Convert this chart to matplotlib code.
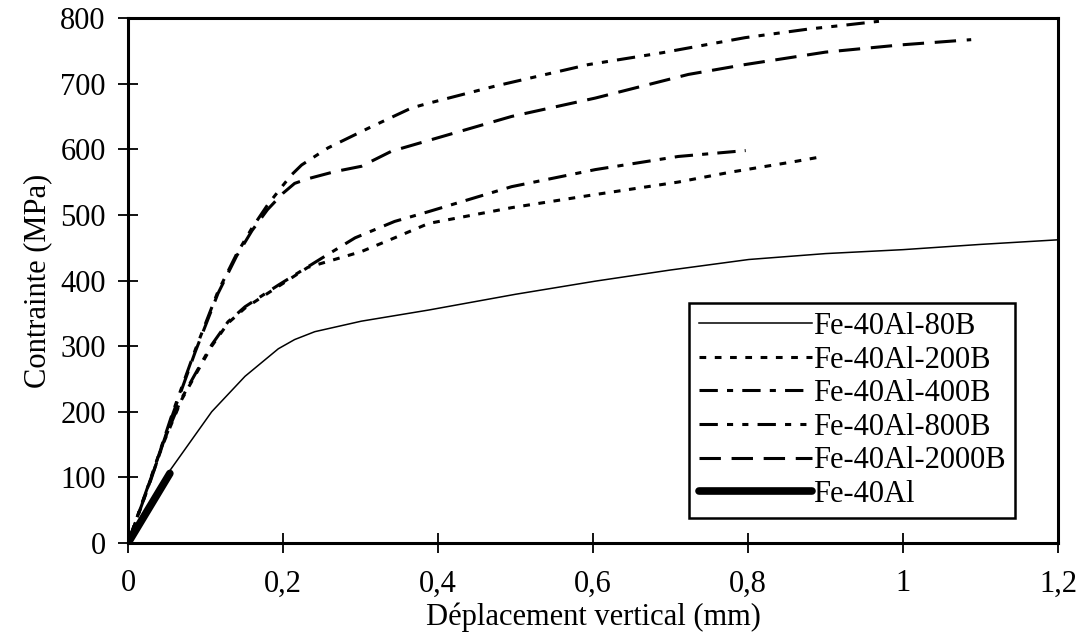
import matplotlib
matplotlib.use("Agg")
import matplotlib.pyplot as plt

plt.rcParams['font.family'] = ['Liberation Serif', 'DejaVu Serif']

# Données (déplacement en mm, contrainte en MPa)
x_80B = [0, 0.052, 0.108, 0.151, 0.194, 0.215, 0.241, 0.301, 0.388, 0.5, 0.603, 0.7, 0.801, 0.9, 1.0, 1.1, 1.2]
y_80B = [0, 107, 200, 254, 296, 310, 322, 338, 355, 379, 399, 416, 432, 441, 447, 455, 462]

x_200B = [0, 0.02, 0.045, 0.069, 0.086, 0.108, 0.129, 0.151, 0.194, 0.232, 0.301, 0.344, 0.388,
          0.495, 0.603, 0.71, 0.777, 0.859, 0.897]
y_200B = [0, 65, 150, 218, 254, 300, 335, 358, 391, 420, 444, 465, 487,
          511, 531, 550, 565, 581, 589]

x_400B = [0, 0.02, 0.045, 0.069, 0.086, 0.108, 0.129, 0.151, 0.194, 0.25, 0.293, 0.344, 0.388,
          0.495, 0.603, 0.71, 0.797]
y_400B = [0, 67, 152, 220, 256, 302, 337, 360, 393, 434, 465, 490, 505,
          543, 569, 589, 598]

x_800B = [0, 0.03, 0.058, 0.087, 0.116, 0.14, 0.16, 0.18, 0.2, 0.211, 0.224, 0.258,
          0.31, 0.366, 0.3875, 0.473, 0.594, 0.689, 0.796, 0.877, 0.924, 0.969]
y_800B = [0, 100, 200, 295, 383, 440, 480, 515, 545, 561, 576, 602,
          632, 663, 670, 696, 729, 747, 770, 783, 789, 795]

x_2000B = [0, 0.03, 0.058, 0.087, 0.116, 0.14, 0.16, 0.18, 0.2, 0.215, 0.232, 0.267,
           0.301, 0.34, 0.375, 0.495, 0.603, 0.723, 0.796, 0.9, 0.997, 1.088]
y_2000B = [0, 98, 197, 292, 380, 437, 476, 508, 533, 548, 555, 566,
           574, 597, 609, 650, 678, 714, 729, 748, 759, 767]

x_fe40 = [0, 0.054]
y_fe40 = [0, 106]

fig = plt.figure(figsize=(10.88, 6.41), dpi=100)
ax = fig.add_axes([128 / 1088, 1 - 543 / 641, 930 / 1088, 525 / 641])

ax.plot(x_80B, y_80B, color='black', lw=1.1, label='Fe-40Al-80B')
ax.plot(x_200B, y_200B, color='black', lw=2.2, dashes=(2.2, 2.8), label='Fe-40Al-200B')
ax.plot(x_400B, y_400B, color='black', lw=2.2, dashes=(6, 3, 2, 3), label='Fe-40Al-400B')
ax.plot(x_800B, y_800B, color='black', lw=2.2, dashes=(6, 3, 2, 3, 2, 3), label='Fe-40Al-800B')
ax.plot(x_2000B, y_2000B, color='black', lw=2.2, dashes=(7, 3.5), label='Fe-40Al-2000B')
ax.plot(x_fe40, y_fe40, color='black', lw=5.5, solid_capstyle='round', label='Fe-40Al')

ax.set_xlim(0, 1.2)
ax.set_ylim(0, 800)
ax.set_xticks([0, 0.2, 0.4, 0.6, 0.8, 1.0, 1.2])
ax.set_xticklabels(['0', '0,2', '0,4', '0,6', '0,8', '1', '1,2'])
ax.set_yticks(range(0, 801, 100))
ax.tick_params(direction='inout', length=14, width=1.3, labelsize=22)
ax.tick_params(axis='x', pad=12)
ax.tick_params(axis='y', pad=9)
for s in ax.spines.values():
    s.set_linewidth(2.2)

ax.set_xlabel('Déplacement vertical (mm)', fontsize=22, labelpad=3)
ax.set_ylabel('Contrainte (MPa)', fontsize=22, labelpad=6)

leg = ax.legend(loc='lower right', bbox_to_anchor=(887 / 930, 25 / 525), borderaxespad=0,
                fontsize=22, handlelength=3.7, handletextpad=0.05, labelspacing=0.15,
                fancybox=False, edgecolor='black', framealpha=1, borderpad=0.3)
leg.get_frame().set_linewidth(1.8)

fig.savefig('out.png', dpi=100)
